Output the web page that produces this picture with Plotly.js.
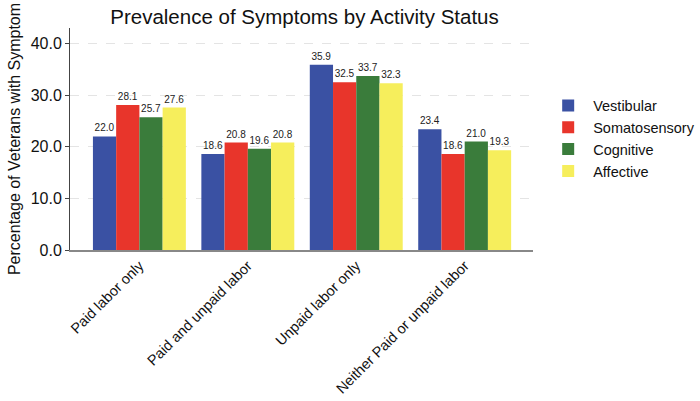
<!DOCTYPE html>
<html><head><meta charset="utf-8">
<script src="https://cdn.plot.ly/plotly-3.0.1.min.js"></script>
<style>html,body{margin:0;padding:0;background:#fff}#chart{width:700px;height:401px}</style>
</head><body><div id="chart"></div>
<script>
const categories = ["Paid labor only", "Paid and unpaid labor", "Unpaid labor only", "Neither Paid or unpaid labor"];
const seriesNames = ["Vestibular", "Somatosensory", "Cognitive", "Affective"];
const vestibular = [22.0, 18.6, 35.9, 23.4];
const somatosensory = [28.1, 20.8, 32.5, 18.6];
const cognitive = [25.7, 19.6, 33.7, 21.0];
const affective = [27.6, 20.8, 32.3, 19.3];
const colors = ["#3a51a3", "#e8352b", "#3a7c3b", "#f6ee5c"];
const yTicks = [0, 10, 20, 30, 40];

const values = [vestibular, somatosensory, cognitive, affective];
const traces = values.map((v, i) => ({
  type: "bar", name: seriesNames[i], x: categories, y: v,
  marker: {color: colors[i], line: {width: 0}},
  text: v.map(d => d.toFixed(1)), textposition: "outside",
  textfont: {size: 10, color: "#222"}, cliponaxis: false
}));

const layout = {
  width: 700, height: 401,
  margin: {l: 70, r: 167, t: 28, b: 151, autoexpand: false},
  paper_bgcolor: "#fff", plot_bgcolor: "#fff",
  font: {family: "Liberation Sans, Arial, sans-serif", color: "#111"},
  title: {text: "Prevalence of Symptoms by Activity Status", font: {size: 20.5, color: "#111"}, x: 0.435, xanchor: "center", y: 0.975, yanchor: "top"},
  barmode: "group", bargap: 0.143, bargroupgap: 0,
  xaxis: {range: [-0.64, 3.63], tickangle: -45, tickfont: {size: 14.5}, showline: true, linecolor: "#888", linewidth: 1.5, ticks: "", showgrid: false},
  yaxis: {range: [0, 43], tickvals: yTicks, tickformat: ".1f", tickfont: {size: 16}, showline: true, linecolor: "#444", linewidth: 1,
          showgrid: true, gridcolor: "#e4e4e4", griddash: "dash", zeroline: false, ticks: "outside", ticklen: 4, tickcolor: "#444",
          title: {text: "Percentage of Veterans with Symptom", font: {size: 16}, standoff: 6}},
  legend: {x: 1.022, xanchor: "left", y: 0.723, yanchor: "top", font: {size: 14.5}, itemwidth: 40, tracegroupgap: 0},
  showlegend: true
};
Plotly.newPlot("chart", traces, layout, {displayModeBar: false, staticPlot: true});
</script></body></html>
